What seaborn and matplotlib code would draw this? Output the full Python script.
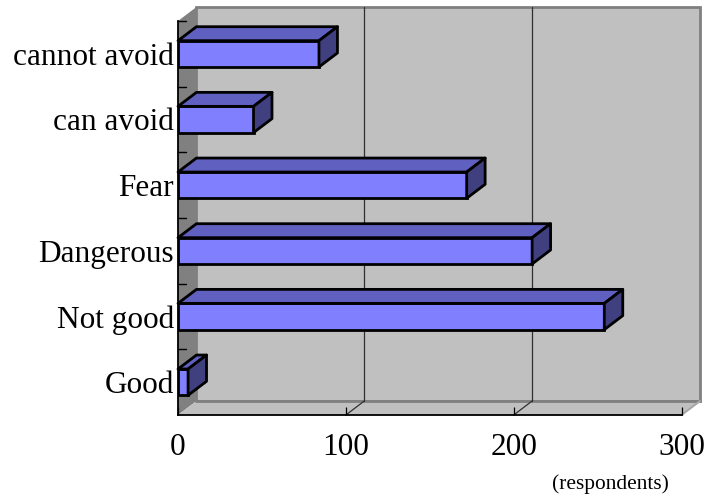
import matplotlib
matplotlib.use("Agg")
import matplotlib.pyplot as plt
from matplotlib.patches import Polygon
import seaborn as sns

categories = ["cannot avoid", "can avoid", "Fear", "Dangerous", "Not good", "Good"]
respondents = [84, 45, 172, 211, 254, 6]
x_ticks = [0, 100, 200, 300]

W, H = 707, 500
# depth of the fake 3d box, in data units
dx = 11
dy = 0.213

sns.set_style("white")
plt.rcParams["font.family"] = ["Liberation Serif", "DejaVu Serif"]
plt.rcParams["text.color"] = "black"
plt.rcParams["xtick.labelcolor"] = "black"
plt.rcParams["ytick.labelcolor"] = "black"

fig = plt.figure(figsize=(W / 100, H / 100), dpi=100)
ax = fig.add_axes([178 / W, 1 - 415 / H, (681.5 - 178) / W, (415 - 21) / H])

sns.barplot(x=respondents, y=categories, order=categories, color="#8080ff", saturation=1,
            width=0.4, edgecolor="black", linewidth=2, ax=ax, zorder=5)
ax.set_xlim(0, 300)
ax.set_ylim(5.5, -0.5)
ax.set_axisbelow(False)

# walls and floor
top, bottom = -0.5, 5.5
ax.add_patch(Polygon([(dx, top - dy), (300 + dx, top - dy), (300 + dx, bottom - dy), (dx, bottom - dy)],
                     fc="#c0c0c0", ec="#808080", lw=2, zorder=1, clip_on=False))
ax.add_patch(Polygon([(0, top), (dx, top - dy), (dx, bottom - dy), (0, bottom)],
                     fc="#808080", ec="none", zorder=1.5, clip_on=False))
ax.add_patch(Polygon([(0, bottom), (dx, bottom - dy), (300 + dx, bottom - dy), (300, bottom)],
                     fc="#c0c0c0", ec="none", zorder=1.5, clip_on=False))
ax.plot([dx, 300 + dx], [bottom - dy, bottom - dy], color="#808080", lw=2, zorder=1.6, clip_on=False)
ax.plot([300, 300 + dx], [bottom, bottom - dy], color="#a8a8a8", lw=1.5, zorder=1.6, clip_on=False)

# gridlines on the back wall, continued across the floor
for t in x_ticks[1:3]:
    ax.plot([t + dx, t + dx], [top - dy, bottom - dy], color="#303030", lw=0.9, zorder=2, clip_on=False)
    ax.plot([t, t + dx], [bottom, bottom - dy], color="#303030", lw=0.9, zorder=2, clip_on=False)

# top and side faces of the bars
for bar in ax.patches:
    if bar.get_zorder() != 5:
        continue
    x1 = bar.get_width()
    y0, y1 = bar.get_y(), bar.get_y() + bar.get_height()
    ax.add_patch(Polygon([(0, y0), (dx, y0 - dy), (x1 + dx, y0 - dy), (x1, y0)],
                         fc="#6060c0", ec="black", lw=2, zorder=5, joinstyle="round", clip_on=False))
    ax.add_patch(Polygon([(x1, y0), (x1 + dx, y0 - dy), (x1 + dx, y1 - dy), (x1, y1)],
                         fc="#404080", ec="black", lw=2, zorder=5, joinstyle="round", clip_on=False))

sns.despine(ax=ax, top=True, right=True)
for side in ["left", "bottom"]:
    ax.spines[side].set_color("black")
    ax.spines[side].set_linewidth(1.3)
    ax.spines[side].set_zorder(4)

ax.set_xticks(x_ticks)
ax.set_xticklabels([str(t) for t in x_ticks])
ax.tick_params(axis="x", direction="in", length=5.5, width=0.9, color="black", labelsize=22.5, pad=13, bottom=True)
ax.set_yticks(categories)
ax.tick_params(axis="y", length=0, labelsize=22.5, pad=3)
for b in [0.5, 1.5, 2.5, 3.5, 4.5, -0.5]:
    ax.plot([0, 5], [b, b], color="black", lw=1, zorder=3, clip_on=False)
ax.set_xlabel("")
ax.set_ylabel("")

fig.text(610 / W, 1 - 484 / H, "(respondents)", ha="center", va="center", fontsize=15.4)

fig.savefig("out.png", dpi=100)
